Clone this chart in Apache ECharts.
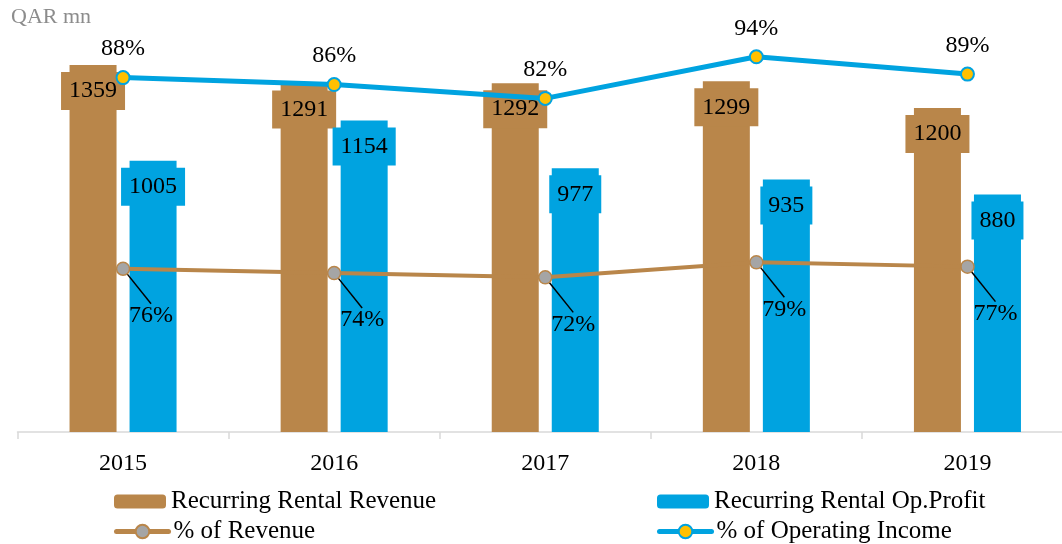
<!DOCTYPE html>
<html>
<head>
<meta charset="utf-8">
<script src="https://cdn.jsdelivr.net/npm/echarts@6/dist/echarts.min.js"></script>
<style>
  html, body { margin: 0; padding: 0; background: #fff; overflow: hidden; }
  /* plot runs past the right edge in the original, so the canvas is a bit wider than the window */
  #chart { width: 1073px; height: 544px; }
</style>
</head>
<body>
<div id="chart"></div>
<script>
const years = ["2015", "2016", "2017", "2018", "2019"];
const rentalRevenue = [1359, 1291, 1292, 1299, 1200];
const rentalOpProfit = [1005, 1154, 977, 935, 880];
const pctOfRevenue = [76, 74, 72, 79, 77];
const pctOfOpIncome = [88, 86, 82, 94, 89];

const brown = "#B9864A";
const blue = "#00A3E0";
const font = "Liberation Serif";

const chart = echarts.init(document.getElementById("chart"));

// one legend per item so the 2x2 layout is exact
function legendItem(name, left, top, isLine) {
  return {
    left: left,
    top: top,
    itemWidth: 52,
    itemHeight: isLine ? 17 : 14,
    lineStyle: { width: 5, cap: "round" },
    textStyle: { fontFamily: font, fontSize: 25, color: "#000" },
    data: [name]
  };
}

chart.setOption({
  backgroundColor: "#fff",
  animation: false,
  textStyle: { fontFamily: font },
  title: {
    text: "QAR mn",
    left: 6,
    top: 1,
    textStyle: { fontFamily: font, fontSize: 22, fontWeight: "normal", color: "#8C8C8C" }
  },
  grid: { left: 17.5, right: 0, top: 54, bottom: 112, containLabel: false },
  legend: [
    legendItem("Recurring Rental Revenue", 109, 484, false),
    legendItem("% of Revenue", 109, 514, true),
    legendItem("Recurring Rental Op.Profit", 652, 484, false),
    legendItem("% of Operating Income", 652, 514, true)
  ],
  xAxis: {
    type: "category",
    data: years,
    axisLine: { lineStyle: { color: "#D9D9D9", width: 1.5 } },
    axisTick: { show: true, length: 7, lineStyle: { color: "#D9D9D9", width: 1.5 } },
    axisLabel: { fontFamily: font, fontSize: 24, color: "#000", margin: 20 }
  },
  yAxis: [
    { type: "value", min: 0, max: 1400, show: false, splitLine: { show: false } },
    { type: "value", min: 0, max: 176, show: false, splitLine: { show: false } },
    { type: "value", min: -14.2, max: 94.8, show: false, splitLine: { show: false } }
  ],
  series: [
    {
      name: "Recurring Rental Revenue",
      type: "bar",
      data: rentalRevenue,
      barWidth: 47,
      barGap: "27.7%",
      itemStyle: { color: brown },
      label: {
        show: true,
        position: "insideTop",
        distance: 7,
        fontFamily: font,
        fontSize: 24,
        lineHeight: 24,
        color: "#000",
        backgroundColor: brown,
        padding: [7, 8]
      }
    },
    {
      name: "Recurring Rental Op.Profit",
      type: "bar",
      data: rentalOpProfit,
      barWidth: 47,
      itemStyle: { color: blue },
      label: {
        show: true,
        position: "insideTop",
        distance: 7,
        fontFamily: font,
        fontSize: 24,
        lineHeight: 24,
        color: "#000",
        backgroundColor: blue,
        padding: [7, 8]
      }
    },
    {
      name: "% of Revenue",
      type: "line",
      yAxisIndex: 1,
      data: pctOfRevenue,
      symbol: "circle",
      symbolSize: 13,
      lineStyle: { color: brown, width: 4 },
      itemStyle: { color: "#A5A5A5", borderColor: brown, borderWidth: 1.5 },
      label: {
        show: true,
        position: "inside",
        formatter: "{c}%",
        fontFamily: font,
        fontSize: 24,
        color: "#000"
      },
      labelLayout: { dx: 28, dy: 47 },
      labelLine: { show: true, lineStyle: { color: "#000", width: 1.5 } }
    },
    {
      name: "% of Operating Income",
      type: "line",
      yAxisIndex: 2,
      data: pctOfOpIncome,
      symbol: "circle",
      symbolSize: 13,
      lineStyle: { color: blue, width: 5 },
      itemStyle: { color: "#FFC000", borderColor: blue, borderWidth: 2 },
      label: {
        show: true,
        position: "top",
        distance: 9,
        formatter: "{c}%",
        fontFamily: font,
        fontSize: 24,
        color: "#000"
      }
    }
  ]
});
</script>
</body>
</html>
